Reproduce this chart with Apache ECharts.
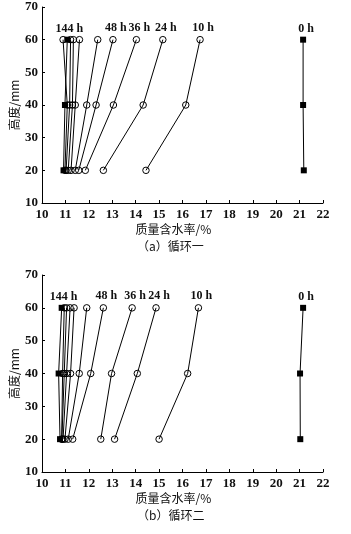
<!DOCTYPE html>
<html>
<head>
<meta charset="utf-8">
<script src="https://cdn.jsdelivr.net/npm/echarts@6/dist/echarts.min.js"></script>
<style>
    html, body { margin: 0; padding: 0; background: #fff; }
    #container { width: 351px; height: 534px; }
</style>
</head>
<body>
<div id="container"></div>
<script>
    // heights of the sampling points (mm)
    var heights = [60, 40, 20];
    var timeNames = ['0 h', '10 h', '24 h', '36 h', '48 h', '60 h', '72 h', '96 h', '108 h', '120 h', '144 h'];
    var labelled = ['0 h', '10 h', '24 h', '36 h', '48 h', '144 h'];

    // 循环一 moisture (%) at heights 60/40/20
    var cycle1 = [
        [21.15, 21.15, 21.18],
        [16.75, 16.14, 14.44],
        [15.16, 14.32, 12.62],
        [14.03, 13.05, 11.85],
        [13.03, 12.31, 11.57],
        [12.38, 11.91, 11.42],
        [11.60, 11.42, 11.24],
        [11.34, 11.30, 11.12],
        [11.22, 11.18, 11.03],
        [10.90, 11.08, 10.98],
        [11.08, 10.98, 10.92]
    ];

    // 循环二
    var cycle2 = [
        [21.15, 21.02, 21.03],
        [16.68, 16.22, 15.00],
        [14.87, 14.07, 13.10],
        [13.85, 12.97, 12.51],
        [12.62, 12.08, 11.31],
        [11.91, 11.59, 11.12],
        [11.37, 11.22, 10.98],
        [11.20, 11.05, 10.90],
        [11.05, 10.95, 10.85],
        [10.95, 10.88, 10.84],
        [10.84, 10.71, 10.77]
    ];

    var xTicks = [10, 22, 1];
    var yTicks = [10, 70, 10];

    var serifFont = "'Liberation Serif', 'DejaVu Serif', serif";
    var cjkFont = "'Noto Sans CJK SC', sans-serif";

    init();

    function init() {
        var dom = document.getElementById("container");
        var myChart = echarts.init(dom, null, { renderer: 'canvas' });
        var option = {
            backgroundColor: '#fff',
            animation: false,
            grid: [
                { left: 42, right: 28, top: 7, height: 196, containLabel: false, outerBoundsMode: 'none' },
                { left: 42, right: 28, top: 275, height: 197, containLabel: false, outerBoundsMode: 'none' }
            ],
            xAxis: [makeX(0), makeX(1)],
            yAxis: [makeY(0), makeY(1)],
            graphic: [
                caption('（a）循环一', 247),
                caption('（b）循环二', 516)
            ],
            series: buildSeries(cycle1, 0).concat(buildSeries(cycle2, 1))
        };
        if (option && typeof option === "object") {
            myChart.setOption(option, true);
        }
    }

    function caption(text, y) {
        return {
            type: 'text',
            left: 137,
            top: y - 7,
            style: {
                text: text,
                font: "12px " + cjkFont,
                fill: '#111'
            }
        };
    }

    function makeX(idx) {
        return {
            type: 'value',
            gridIndex: idx,
            min: xTicks[0],
            max: xTicks[1],
            interval: xTicks[2],
            name: '质量含水率/%',
            nameLocation: 'middle',
            nameGap: 20,
            nameMoveOverlap: false,
            nameTextStyle: {
                fontFamily: cjkFont,
                fontSize: 12,
                color: '#111',
                padding: [0, 18, 0, 0]
            },
            axisLine: { lineStyle: { color: '#000', width: 1 } },
            axisTick: { inside: true, length: 3, lineStyle: { color: '#000' } },
            axisLabel: {
                margin: 5,
                color: '#111',
                fontFamily: serifFont,
                fontWeight: 'bold',
                fontSize: 13
            },
            splitLine: { show: false }
        };
    }

    function makeY(idx) {
        return {
            type: 'value',
            gridIndex: idx,
            min: yTicks[0],
            max: yTicks[1],
            interval: yTicks[2],
            name: '高度/mm',
            nameLocation: 'middle',
            nameGap: 22,
            nameMoveOverlap: false,
            nameRotate: 90,
            nameTextStyle: {
                fontFamily: cjkFont,
                fontSize: 12,
                color: '#111'
            },
            axisLine: { show: true, lineStyle: { color: '#000', width: 1 } },
            axisTick: { show: true, inside: true, length: 3, lineStyle: { color: '#000' } },
            axisLabel: {
                margin: 4,
                color: '#111',
                fontFamily: serifFont,
                fontWeight: 'bold',
                fontSize: 13
            },
            splitLine: { show: false }
        };
    }

    function buildSeries(values, idx) {
        var list = [];
        for (var i = 0; i < values.length; i++) {
            var name = timeNames[i];
            var filled = (i == 0 || i == values.length - 1);
            var data = [];
            for (var j = 0; j < heights.length; j++) {
                var item = { value: [values[i][j], heights[j]] };
                if (j == 0 && labelled.indexOf(name) >= 0) {
                    item.label = {
                        show: true,
                        position: 'top',
                        distance: 2,
                        offset: [name == '144 h' ? 2 : 3, 0],
                        formatter: name,
                        color: '#111',
                        fontFamily: serifFont,
                        fontWeight: 'bold',
                        fontSize: 12
                    };
                }
                data.push(item);
            }
            list.push({
                name: name,
                type: 'line',
                xAxisIndex: idx,
                yAxisIndex: idx,
                data: data,
                symbol: filled ? 'rect' : 'circle',
                symbolSize: filled ? 6 : 6.5,
                lineStyle: { color: '#000', width: 1 },
                itemStyle: filled ? { color: '#000' } : {
                    color: 'rgba(255,255,255,0)',
                    borderColor: '#000',
                    borderWidth: 1
                },
                z: filled ? 3 : 2
            });
        }
        return list;
    }
</script>
</body>
</html>
